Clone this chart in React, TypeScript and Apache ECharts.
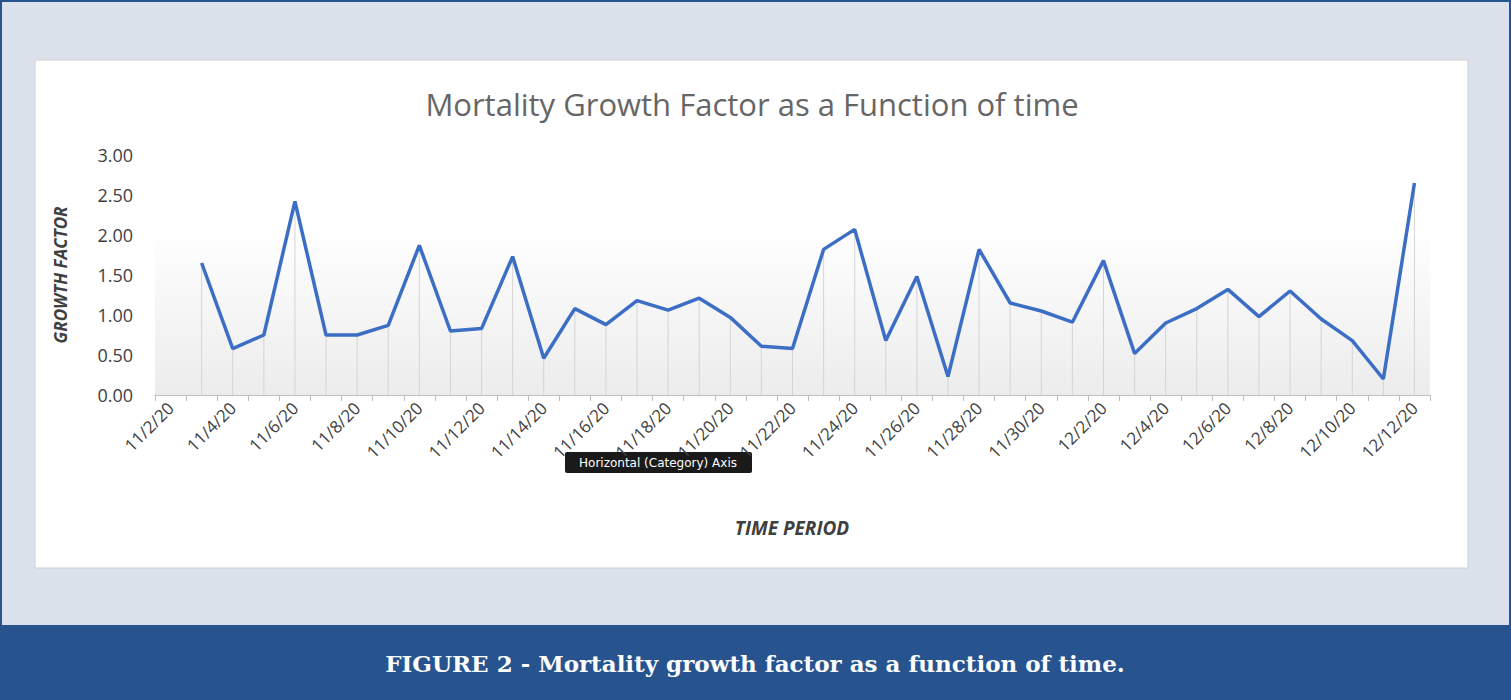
import { useEffect, useRef } from "react";
import * as echarts from "echarts";

// 11/2/20 .. 12/12/20, daily
const DATES: string[] = [
  "11/2/20", "11/3/20", "11/4/20", "11/5/20", "11/6/20", "11/7/20", "11/8/20", "11/9/20",
  "11/10/20", "11/11/20", "11/12/20", "11/13/20", "11/14/20", "11/15/20", "11/16/20",
  "11/17/20", "11/18/20", "11/19/20", "11/20/20", "11/21/20", "11/22/20", "11/23/20",
  "11/24/20", "11/25/20", "11/26/20", "11/27/20", "11/28/20", "11/29/20", "11/30/20",
  "12/1/20", "12/2/20", "12/3/20", "12/4/20", "12/5/20", "12/6/20", "12/7/20", "12/8/20",
  "12/9/20", "12/10/20", "12/11/20", "12/12/20",
];
const GROWTH: (number | null)[] = [
  null, 1.65, 0.58, 0.75, 2.42, 0.75, 0.75, 0.87, 1.87, 0.8, 0.83, 1.73, 0.46, 1.08, 0.88,
  1.18, 1.06, 1.21, 0.97, 0.61, 0.58, 1.82, 2.07, 0.68, 1.48, 0.23, 1.82, 1.15, 1.05, 0.91,
  1.68, 0.52, 0.9, 1.08, 1.32, 0.98, 1.3, 0.95, 0.68, 0.2, 2.65,
];

const LINE_BLUE = "#3b6ec4";
const BANNER = "#27548f";

export default function App() {
  const ref = useRef<HTMLDivElement>(null);
  useEffect(() => {
    if (!ref.current) return;
    const chart = echarts.init(ref.current, undefined, { renderer: "svg" });
    chart.setOption({
      animation: false,
      backgroundColor: "#dbe2eb",
      graphic: [
        { type: "rect", z: -10, shape: { x: 1, y: 1, width: 1509, height: 698 }, style: { fill: "none", stroke: BANNER, lineWidth: 2 } },
        { type: "rect", z: -9, shape: { x: 35, y: 60, width: 1433, height: 508 }, style: { fill: "#ffffff", stroke: "#d0d0d0", lineWidth: 1 } },
        { type: "rect", z: -9, shape: { x: 0, y: 625, width: 1511, height: 75 }, style: { fill: BANNER } },
        {
          type: "text", x: 755, y: 663,
          style: { text: "FIGURE 2 - Mortality growth factor as a function of time.", fill: "#ffffff", font: "bold 23px 'DejaVu Serif', serif", align: "center", verticalAlign: "middle" },
        },
        {
          type: "text", x: 752, y: 104,
          style: { text: "Mortality Growth Factor as a Function of time", fill: "#666666", font: "31px 'Open Sans', sans-serif", align: "center", verticalAlign: "middle" },
        },
        {
          type: "text", x: 60, y: 275, rotation: Math.PI / 2,
          style: { text: "GROWTH FACTOR", fill: "#404040", font: "italic bold 17px 'Open Sans', sans-serif", align: "center", verticalAlign: "middle" },
        },
        {
          type: "text", x: 792, y: 528,
          style: { text: "TIME PERIOD", fill: "#404040", font: "italic bold 19px 'Open Sans', sans-serif", align: "center", verticalAlign: "middle" },
        },
        {
          type: "group", z: 100,
          children: [
            { type: "rect", shape: { x: 565, y: 452, width: 187, height: 21, r: 2 }, style: { fill: "#1a1a1a" } },
            { type: "text", x: 658, y: 463, style: { text: "Horizontal (Category) Axis", fill: "#ffffff", font: "12px 'DejaVu Sans', sans-serif", align: "center", verticalAlign: "middle" } },
          ],
        },
      ],
      grid: {
        left: 155, right: 81, top: 155, bottom: 305, show: true, borderWidth: 0,
        backgroundColor: new echarts.graphic.LinearGradient(0, 0, 0, 1, [
          { offset: 0, color: "#ffffff" },
          { offset: 0.3, color: "#ffffff" },
          { offset: 1, color: "#ececec" },
        ]),
      },
      xAxis: {
        type: "category",
        data: DATES,
        boundaryGap: true,
        axisLine: { lineStyle: { color: "#bfbfbf" } },
        axisTick: { show: true, interval: 0, length: 6, lineStyle: { color: "#bfbfbf" } },
        axisLabel: { interval: 1, rotate: 45, color: "#404040", fontSize: 17, fontFamily: "'Open Sans', sans-serif", margin: 10 },
      },
      yAxis: {
        type: "value",
        min: 0, max: 3, interval: 0.5,
        axisLine: { show: false },
        axisTick: { show: false },
        splitLine: { show: false },
        axisLabel: { color: "#404040", fontSize: 18, fontFamily: "'Open Sans', sans-serif", margin: 22, formatter: (v: number) => v.toFixed(2) },
      },
      series: [
        { type: "bar", data: GROWTH, barWidth: 1, silent: true, itemStyle: { color: "#d4d4d4" }, z: 1 },
        { type: "line", data: GROWTH, showSymbol: false, lineStyle: { color: LINE_BLUE, width: 3.5 }, itemStyle: { color: LINE_BLUE }, z: 3 },
      ],
    });
    return () => chart.dispose();
  }, []);
  return <div ref={ref} style={{ position: "fixed", left: 0, top: 0, width: 1511, height: 700 }} />;
}
